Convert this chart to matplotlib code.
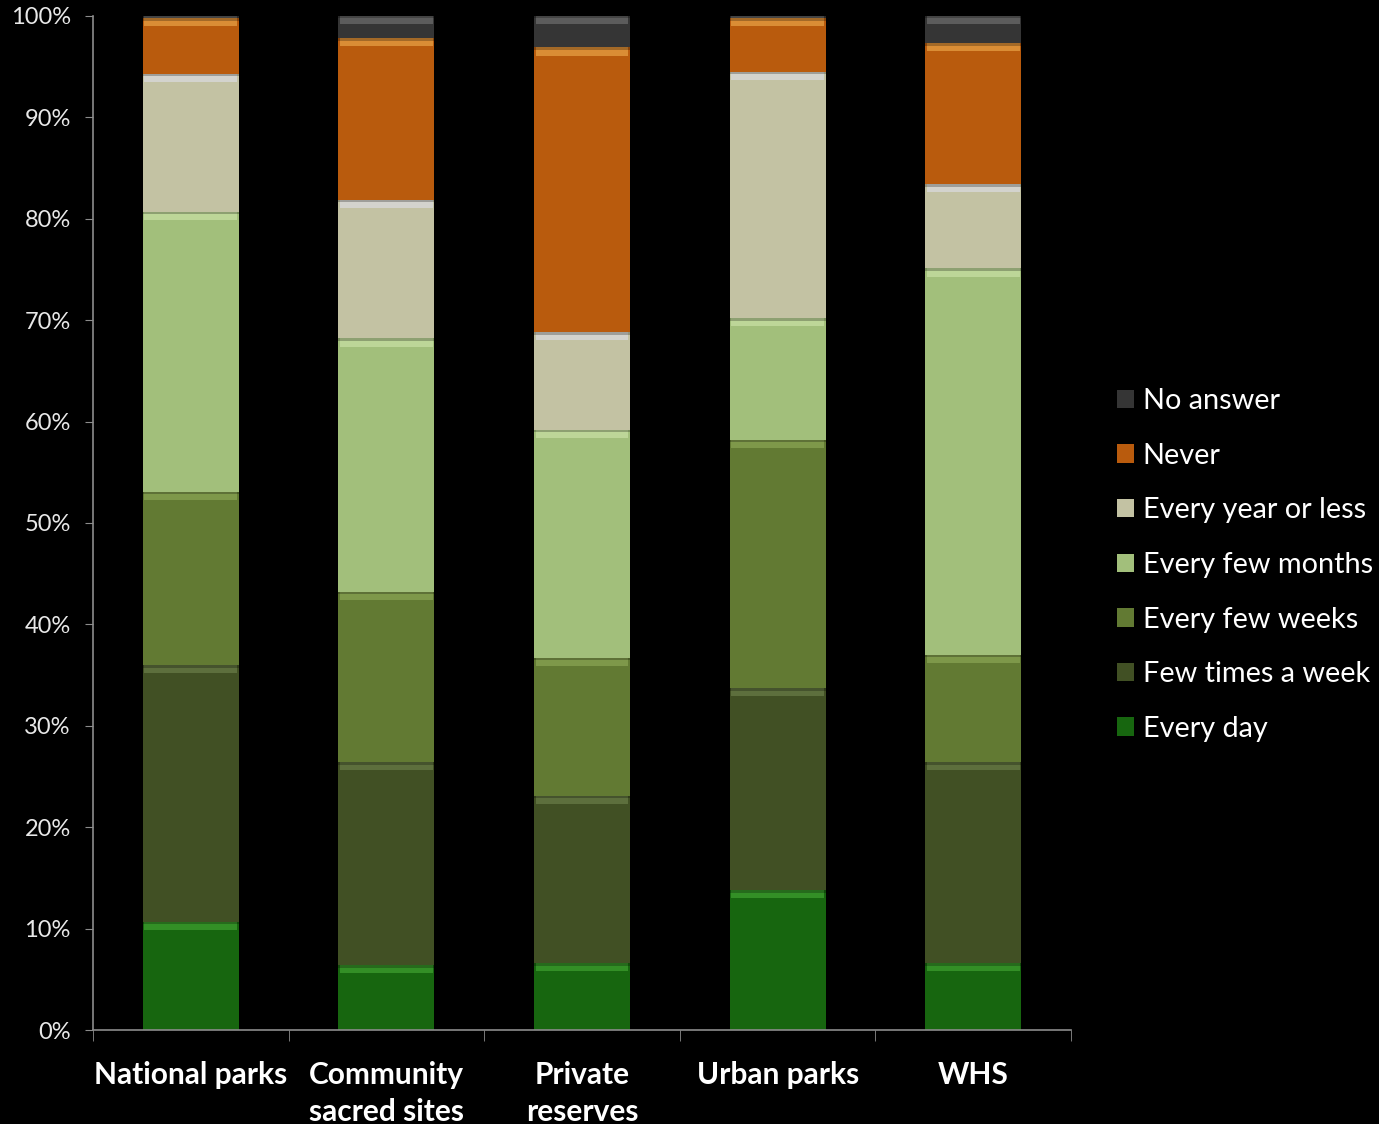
import matplotlib.pyplot as plt
import numpy as np

plt.rcParams['font.family'] = ['Lato', 'DejaVu Sans']

sites = ['National parks', 'Community\nsacred sites', 'Private\nreserves', 'Urban parks', 'WHS']
series = ['Every day', 'Few times a week', 'Every few weeks', 'Every few months',
          'Every year or less', 'Never', 'No answer']
every_day = [10.7, 6.4, 6.6, 13.8, 6.6]
few_times_week = [25.3, 20.0, 16.5, 19.9, 19.8]
every_few_weeks = [17.1, 16.8, 13.6, 24.5, 10.6]
every_few_months = [27.6, 25.0, 22.5, 12.0, 38.1]
every_year = [13.6, 13.7, 9.6, 24.3, 8.3]
never = [5.5, 15.9, 28.1, 5.3, 13.9]
no_answer = [0.2, 2.2, 3.1, 0.2, 2.7]

values = [every_day, few_times_week, every_few_weeks, every_few_months,
          every_year, never, no_answer]
colors = ['#17660f', '#415024', '#627a33', '#a2bf7b', '#c3c2a3', '#b95b0d', '#353535']
shine = ['#3b9a2c', '#657844', '#86a050', '#c4dca0', '#d8d8d8', '#e39a40', '#666666']

fig = plt.figure(figsize=(13.79, 11.24), dpi=100, facecolor='black')
ax = fig.add_axes([0.0674, 0.0836, 0.7093, 0.9022], facecolor='black')

x = np.arange(len(sites))
width = 0.49
bottom = np.zeros(len(sites))
handles = []
for name, vals, col, hi in zip(series, values, colors, shine):
    vals = np.array(vals)
    h = ax.bar(x, vals, width, bottom=bottom, color=col, label=name,
               edgecolor='none', zorder=2)
    handles.append(h)
    top = bottom + vals
    # lighter bevel strip at the top of each segment
    band = np.minimum(vals, 0.8)
    ax.bar(x, band, width * 0.97, bottom=top - band, color=hi, edgecolor='none',
           alpha=0.8, zorder=3)
    thin = np.minimum(vals, 0.25)
    ax.bar(x, thin, width, bottom=top - thin, color='#000000', alpha=0.25,
           zorder=4, edgecolor='none')
    bottom = top

ax.set_xlim(-0.5, 4.5)
ax.set_ylim(0, 100)
ax.set_yticks(np.arange(0, 101, 10))
ax.set_yticklabels([f'{v}%' for v in range(0, 101, 10)])
ax.set_xticks(x)
ax.set_xticklabels(sites, fontsize=21.5, fontweight='bold', color='white',
                   linespacing=1.4)
ax.set_xticks(np.arange(-0.5, 4.6, 1), minor=True)
ax.tick_params(axis='x', which='major', length=0, pad=22)
ax.tick_params(axis='x', which='minor', length=8, color='#8c8c8c', direction='out')
ax.tick_params(axis='y', length=6, color='#8c8c8c', labelsize=17, labelcolor='#e8e8e8',
               pad=10)
for side in ['top', 'right']:
    ax.spines[side].set_visible(False)
for side in ['left', 'bottom']:
    ax.spines[side].set_color('#8c8c8c')
    ax.spines[side].set_linewidth(1.2)

leg = ax.legend(handles[::-1], series[::-1], loc='center left',
                bbox_to_anchor=(1.02, 0.4586), frameon=False, fontsize=20.8,
                labelcolor='white', handlelength=0.6, handleheight=0.6,
                handletextpad=0.3, labelspacing=0.99)

fig.savefig('out.png', dpi=100, facecolor='black')
